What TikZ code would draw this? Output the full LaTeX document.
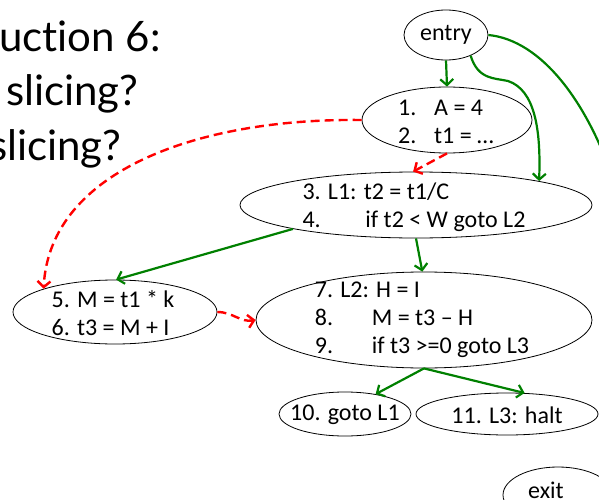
\documentclass[tikz,border=0pt]{standalone}
\usepackage{fontspec}
\setmainfont{Carlito}
\newfontfamily\titlefont[Ligatures=NoCommon]{Lato}
\usetikzlibrary{shapes.geometric,arrows.meta}
\begin{document}
\begin{tikzpicture}[x=1pt,y=-1pt,
  blk/.style={ellipse,draw,line width=0.8pt,inner sep=0pt},
  txt/.style={inner sep=0pt,align=left,font=\fontsize{24}{28}\selectfont},
  flow/.style={draw=green!50!black,line width=2.2pt,-{Straight Barb[length=6pt,width=13pt]}},
  dep/.style={draw=red,line width=2.4pt,dash pattern=on 9pt off 5pt,-{Straight Barb[length=6pt,width=13pt]}},
  ttl/.style={font=\titlefont\fontsize{42}{50}\selectfont,inner sep=0pt,anchor=base west}]
\useasboundingbox (0,0) rectangle (599,500);
\clip (0,0) rectangle (599,500);
% title fragments
\node[ttl] (t1) at (-1,52) {uction 6:};
\node[ttl] (t2) at (6,106) {slicing?};
\node[ttl] (t3) at (-11,160) {slicing?};
% ellipses
\node[blk,minimum width=84pt,minimum height=50pt] (entry) at (446,35) {};
\node[txt] (entryt) at (446,35) {entry};
\node[blk,minimum width=170pt,minimum height=66pt] (n1) at (447,120) {};
\node[txt] (n1t) at (446,122) {\makebox[36pt][l]{1.}A = 4\\\makebox[36pt][l]{2.}t1 = …};
\node[blk,minimum width=352pt,minimum height=66pt] (n34) at (416,205) {};
\node[txt] (n34t) at (414,207) {3. L1: t2 = t1/C\\\makebox[63pt][l]{4.}if t2 < W goto L2};
\node[blk,minimum width=204pt,minimum height=64pt] (n56) at (115,312) {};
\node[txt] (n56t) at (113,313) {5. M = t1 * k\\6. t3 = M + I};
\node[blk,minimum width=336pt,minimum height=96pt] (n789) at (424,320) {};
\node[txt] (n789t) at (422,320) {7. L2: H = I\\\makebox[57pt][l]{8.}M = t3 – H\\\makebox[57pt][l]{9.}if t3 >=0 goto L3};
\node[blk,minimum width=132pt,minimum height=44pt] (n10) at (345,414) {};
\node[txt] (n10t) at (345,415) {10. goto L1};
\node[blk,minimum width=182pt,minimum height=42pt] (n11) at (507,414) {};
\node[txt] (n11t) at (507,415) {11. L3: halt};
\node[blk,minimum width=110pt,minimum height=56pt] (exit) at (558,495) {};
\node[txt] (exitt) at (546,490) {exit};
% control flow
\draw[flow] (entry.south) -- (n1.north);
\draw[flow] (entry.-40) .. controls (478,80) and (495,78) .. (508,81) .. controls (535,90) and (541,130) .. (n34.11);
\draw[flow] (entry.east) .. controls (540,40) and (590,100) .. (620,200) .. controls (660,330) and (660,470) .. (exit.east);
\draw[flow] (n34.-169) -- (n56.88);
\draw[flow] (n34.south) -- (n789.92);
\draw[flow] (n789.south) -- (n10.33);
\draw[flow] (n789.south) -- (n11.50);
% dependences
\draw[dep] (n1.west) .. controls (200,118) and (50,170) .. (n56.162);
\draw[dep] (n1.south) -- (n34.95);
\draw[dep] (n56.east) to[out=0,in=190] (n789.west);
\end{tikzpicture}
\end{document}
